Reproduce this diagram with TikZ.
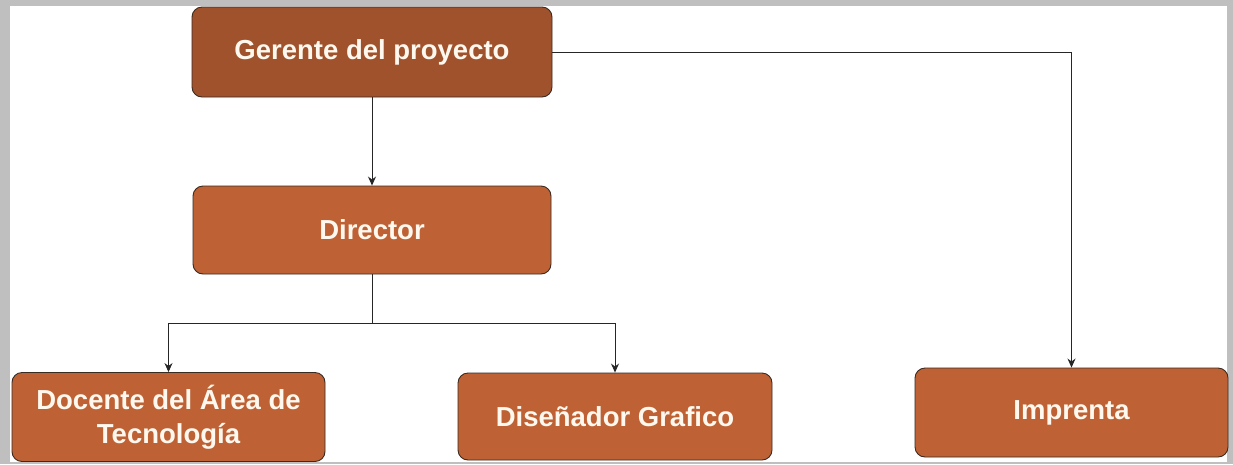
\documentclass[tikz,border=0pt]{standalone}
\usepackage{fontspec}
\setmainfont{Liberation Sans}
\usetikzlibrary{arrows.meta}
\definecolor{topfill}{HTML}{A0522D}
\definecolor{boxfill}{HTML}{BE6235}
\definecolor{boxline}{HTML}{3A2A20}
\definecolor{txt}{HTML}{FFF8EE}
\tikzset{
  orgbox/.style={draw=boxline, line width=0.9pt, fill=boxfill, rounded corners=10pt,
    minimum height=88pt, text=txt, font=\bfseries\fontsize{27.5}{34}\selectfont, align=center, inner sep=0pt},
  conn/.style={draw=black!85, line width=0.9pt},
  arr/.style={conn, -{Stealth[length=9pt,width=8pt]}}
}
\begin{document}
\begin{tikzpicture}[x=1pt,y=-1pt]
\useasboundingbox (0,0) rectangle (1233,464);
\fill[black!25] (0,0) rectangle (1233,464);
\fill[white] (10,6) rectangle (1227,462);
\node[orgbox, fill=topfill, minimum width=360pt, minimum height=90pt] (g) at (372,52) {Gerente del proyecto};
\node[orgbox, minimum width=358pt] (d) at (372,230) {Director};
\node[orgbox, minimum width=313pt, minimum height=89pt] (doc) at (168.5,417) {Docente del Área de\\Tecnología};
\node[orgbox, minimum width=314pt, minimum height=87pt] (dis) at (615,416.5) {Diseñador Grafico};
\node[orgbox, minimum width=313pt, minimum height=89pt] (imp) at (1071.5,412.5) {Imprenta};
\coordinate (j) at (372,323);
\draw[arr] (g.south) -- (d.north);
\draw[conn] (d.south) -- (j);
\draw[arr] (j) -| (doc.north);
\draw[arr] (j) -| (dis.north);
\draw[arr] (g.east) -| (imp.north);
\end{tikzpicture}
\end{document}
